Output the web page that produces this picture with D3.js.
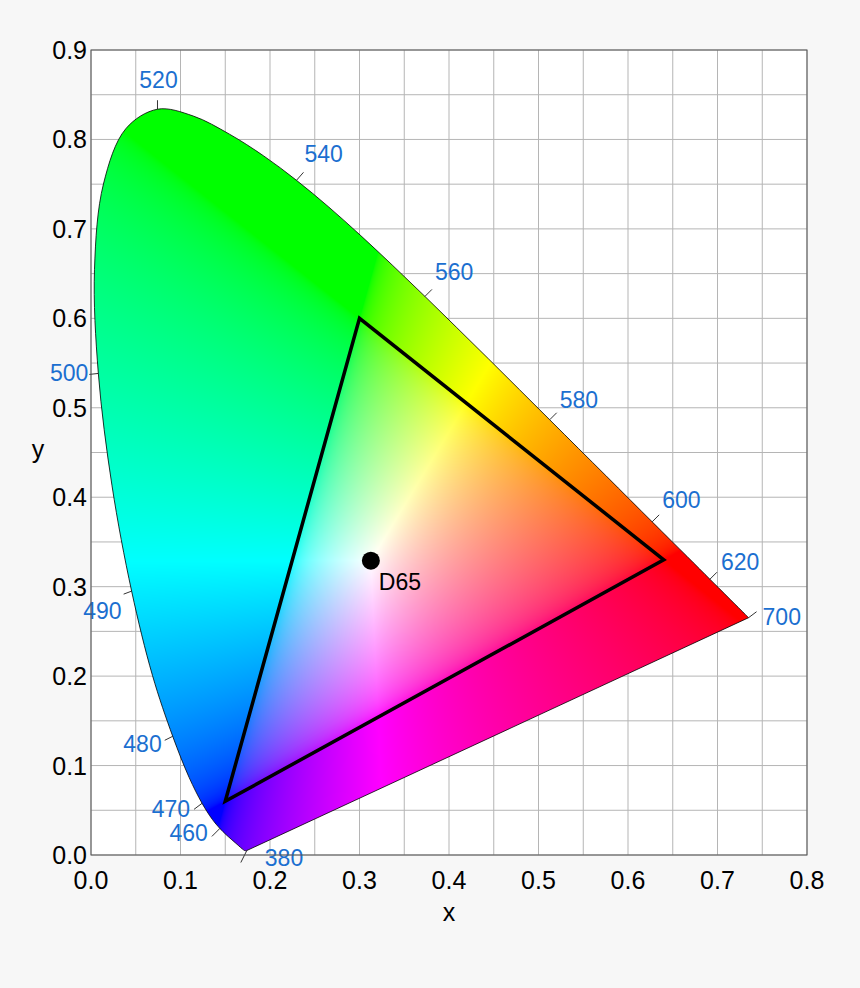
<!DOCTYPE html>
<html><head><meta charset="utf-8">
<script src="https://cdn.jsdelivr.net/npm/d3@7"></script>
<style>body{margin:0;background:#f7f7f7;}svg{display:block}</style>
</head><body>
<svg id="c" width="860" height="988"></svg>
<script>
const wavelengths=[380,385,390,395,400,405,410,415,420,425,430,435,440,445,450,455,460,465,470,475,480,485,490,495,500,505,510,515,520,525,530,535,540,545,550,555,560,565,570,575,580,585,590,595,600,605,610,615,620,625,630,635,640,645,650,655,660,665,670,675,680,685,690,695,700];
const locusX=[0.1741,0.1740,0.1738,0.1736,0.1733,0.1730,0.1726,0.1721,0.1714,0.1703,0.1689,0.1669,0.1644,0.1611,0.1566,0.1510,0.1440,0.1355,0.1241,0.1096,0.0913,0.0687,0.0454,0.0235,0.0082,0.0039,0.0139,0.0389,0.0743,0.1142,0.1547,0.1929,0.2296,0.2658,0.3016,0.3373,0.3731,0.4087,0.4441,0.4788,0.5125,0.5448,0.5752,0.6029,0.6270,0.6482,0.6658,0.6801,0.6915,0.7006,0.7079,0.7140,0.7190,0.7230,0.7260,0.7283,0.7300,0.7311,0.7320,0.7327,0.7334,0.7340,0.7344,0.7346,0.7347];
const locusY=[0.0050,0.0050,0.0049,0.0049,0.0048,0.0048,0.0048,0.0048,0.0051,0.0058,0.0069,0.0086,0.0109,0.0138,0.0177,0.0227,0.0297,0.0399,0.0578,0.0868,0.1327,0.2007,0.2950,0.4127,0.5384,0.6548,0.7502,0.8120,0.8338,0.8262,0.8059,0.7816,0.7543,0.7243,0.6923,0.6589,0.6245,0.5896,0.5547,0.5202,0.4866,0.4544,0.4242,0.3965,0.3725,0.3514,0.3340,0.3197,0.3083,0.2993,0.2920,0.2859,0.2809,0.2770,0.2740,0.2717,0.2700,0.2689,0.2680,0.2673,0.2666,0.2660,0.2656,0.2654,0.2653];
const labelWavelengths=[380,460,470,480,490,500,520,540,560,580,600,620,700];
const gamutX=[0.64,0.30,0.15];
const gamutY=[0.33,0.60,0.06];
const whiteName="D65", whiteX=0.3127, whiteY=0.3290;
const xTicks=[0,0.1,0.2,0.3,0.4,0.5,0.6,0.7,0.8];
const yTicks=[0,0.1,0.2,0.3,0.4,0.5,0.6,0.7,0.8,0.9];

// label styling: tick direction, text offset (px) relative to locus point, anchor
const labelStyle={
 380:{t:[-6,12],o:[18,15],a:"start"},
 460:{t:[-8,8],o:[-12,13],a:"end"},
 470:{t:[-8,6],o:[-12,14],a:"end"},
 480:{t:[-8,4],o:[-11,16],a:"end"},
 490:{t:[-8,3],o:[-10,28],a:"end"},
 500:{t:[-9,1],o:[-10,8],a:"end"},
 520:{t:[0,-9],o:[1,-21],a:"middle"},
 540:{t:[7,-8],o:[8,-18],a:"start"},
 560:{t:[7,-7],o:[10,-16],a:"start"},
 580:{t:[7,-7],o:[10,-12],a:"start"},
 600:{t:[7,-7],o:[10,-14],a:"start"},
 620:{t:[7,-7],o:[11,-9],a:"start"},
 700:{t:[8,-6],o:[14,7],a:"start"}
};

const L=91,R=807,T=50,B=855;
const sx=d3.scaleLinear().domain([0,0.8]).range([L,R]);
const sy=d3.scaleLinear().domain([0,0.9]).range([B,T]);
const svg=d3.select("#c");
const font="Liberation Sans, Arial, sans-serif";
svg.append("rect").attr("x",L).attr("y",T).attr("width",R-L).attr("height",B-T).attr("fill","#fff");
const g=svg.append("g");
d3.range(0,0.8001,0.05).forEach(v=>g.append("line").attr("x1",sx(v)).attr("x2",sx(v)).attr("y1",T).attr("y2",B).attr("stroke","#b5b5b5").attr("stroke-width",1));
d3.range(0,0.9001,0.05).forEach(v=>g.append("line").attr("y1",sy(v)).attr("y2",sy(v)).attr("x1",L).attr("x2",R).attr("stroke","#b5b5b5").attr("stroke-width",1));

const W=R-L,H=B-T;
const cv=document.createElement("canvas");cv.width=W;cv.height=H;
const ctx=cv.getContext("2d");const img=ctx.createImageData(W,H);
const gam=c=>c<=0.0031308?12.92*c:1.055*Math.pow(c,1/2.4)-0.055;
for(let j=0;j<H;j++){const y=sy.invert(T+j+0.5);for(let i=0;i<W;i++){const x=sx.invert(L+i+0.5);
 if(y<=0.001)continue;const X=x/y,Y=1,Z=(1-x-y)/y;
 let r=3.2406*X-1.5372*Y-0.4986*Z,gg=-0.9689*X+1.8758*Y+0.0415*Z,b=0.0557*X-0.2040*Y+1.0570*Z;
 r=Math.max(r,0);gg=Math.max(gg,0);b=Math.max(b,0);const m=Math.max(r,gg,b)||1;
 const k=(j*W+i)*4;img.data[k]=255*gam(r/m);img.data[k+1]=255*gam(gg/m);img.data[k+2]=255*gam(b/m);img.data[k+3]=255;}}
ctx.putImageData(img,0,0);
const pts=wavelengths.map((w,i)=>[locusX[i],locusY[i]]);
const curve=d3.line().x(d=>sx(d[0])).y(d=>sy(d[1])).curve(d3.curveCatmullRom.alpha(0.5));
const line=d3.line().x(d=>sx(d[0])).y(d=>sy(d[1]));
const locusPath=curve(pts)+"L"+sx(pts[0][0])+","+sy(pts[0][1])+"Z";
svg.append("clipPath").attr("id","lc").append("path").attr("d",locusPath);
svg.append("image").attr("href",cv.toDataURL()).attr("x",L).attr("y",T).attr("width",W).attr("height",H).attr("clip-path","url(#lc)");
svg.append("path").attr("d",locusPath).attr("fill","none").attr("stroke","#000").attr("stroke-width",0.8);

labelWavelengths.forEach(w=>{
 const i=wavelengths.indexOf(w), s=labelStyle[w];
 const px=sx(pts[i][0]),py=sy(pts[i][1]);
 svg.append("line").attr("x1",px).attr("y1",py).attr("x2",px+s.t[0]).attr("y2",py+s.t[1]).attr("stroke","#000").attr("stroke-width",0.8);
 svg.append("text").attr("x",px+s.o[0]).attr("y",py+s.o[1]).attr("text-anchor",s.a)
  .attr("font-family",font).attr("font-size",23).attr("fill","#1b6fd0").text(w);
});

const tri=gamutX.map((x,i)=>[x,gamutY[i]]);
svg.append("path").attr("d",line(tri)+"Z").attr("fill","none").attr("stroke","#000").attr("stroke-width",3.5);
svg.append("circle").attr("cx",sx(whiteX)).attr("cy",sy(whiteY)).attr("r",9).attr("fill","#000");
svg.append("text").attr("x",sx(whiteX)+8).attr("y",sy(whiteY)+29).attr("font-family",font).attr("font-size",23).text(whiteName);

svg.append("rect").attr("x",L).attr("y",T).attr("width",W).attr("height",H).attr("fill","none").attr("stroke","#555").attr("stroke-width",1);
xTicks.forEach(v=>svg.append("text").attr("x",sx(v)).attr("y",B+34).attr("text-anchor","middle").attr("font-family",font).attr("font-size",25).text(v.toFixed(1)));
yTicks.forEach(v=>svg.append("text").attr("x",L-4).attr("y",sy(v)+9).attr("text-anchor","end").attr("font-family",font).attr("font-size",25).text(v.toFixed(1)));
svg.append("text").attr("x",449).attr("y",921).attr("text-anchor","middle").attr("font-family",font).attr("font-size",25).text("x");
svg.append("text").attr("x",38).attr("y",458).attr("text-anchor","middle").attr("font-family",font).attr("font-size",25).text("y");
</script></body></html>
